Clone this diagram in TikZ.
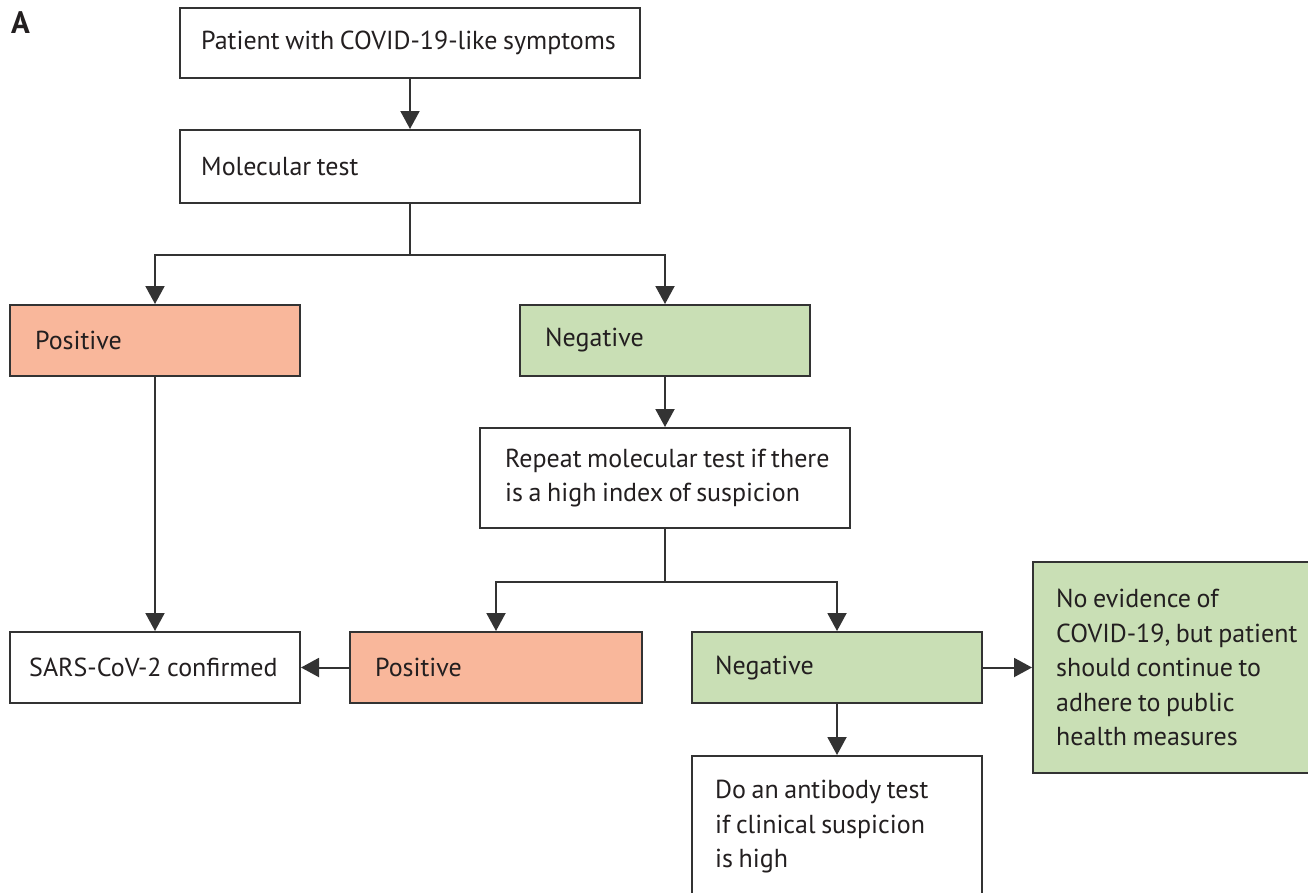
\documentclass[tikz,border=0pt]{standalone}
\usepackage{fontspec}
\setmainfont[WordSpace=0.8]{PT Sans}
\usetikzlibrary{arrows.meta}
\definecolor{pos}{HTML}{F9B79B}
\definecolor{neg}{HTML}{C9DFB5}
\definecolor{ln}{HTML}{333333}
\definecolor{tx}{HTML}{231F20}
\tikzset{
  box/.style={draw=ln, line width=2pt, rectangle, inner sep=0pt, anchor=center},
  txt/.style={inner sep=0pt, align=left, text=tx, font=\fontsize{26}{34.5}\selectfont, anchor=west},
  arr/.style={draw=ln, line width=2pt, -{Triangle[length=18pt,width=19pt]}},
  ln/.style={draw=ln, line width=2pt},
}
\begin{document}
\begin{tikzpicture}[x=1pt,y=-1pt]
\clip (0,0) rectangle (1308,892);
\fill[white] (0,0) rectangle (1308,892);
\node[anchor=north west, inner sep=0pt, font=\fontsize{31}{31}\selectfont\bfseries, text=tx] (lbl) at (11,11) {A};
\node[box, minimum width=460pt, minimum height=70pt] (p1) at (410,43) {};
\node[box, minimum width=460pt, minimum height=73pt] (p2) at (410,166.5) {};
\node[box, fill=pos, minimum width=290pt, minimum height=71pt] (pos1) at (155,340.5) {};
\node[box, fill=neg, minimum width=290pt, minimum height=71pt] (neg1) at (665,340.5) {};
\node[box, minimum width=370pt, minimum height=100pt] (rep) at (665,478) {};
\node[box, minimum width=290pt, minimum height=71pt] (sars) at (155,667.5) {};
\node[box, fill=pos, minimum width=292pt, minimum height=71pt] (pos2) at (496,667.5) {};
\node[box, fill=neg, minimum width=290pt, minimum height=71pt] (neg2) at (837,667.5) {};
\node[box, fill=neg, minimum width=290pt, minimum height=211pt, anchor=west] (noev) at (1032,667.5) {};
\node[box, minimum width=290pt, minimum height=142pt, anchor=north] (ab) at (837,755) {};
\node[txt] (p1t) at ([xshift=22pt]p1.west) {Patient with COVID-19-like symptoms};
\node[txt] (p2t) at ([xshift=22pt]p2.west) {Molecular test};
\node[txt] (pos1t) at ([xshift=26pt]pos1.west) {Positive};
\node[txt] (neg1t) at ([xshift=26pt]neg1.west) {Negative};
\node[txt] (rept) at ([xshift=26pt]rep.west) {Repeat molecular test if there\\is a high index of suspicion};
\node[txt] (sarst) at ([xshift=20pt]sars.west) {SARS-CoV-2 confirmed};
\node[txt] (pos2t) at ([xshift=26pt]pos2.west) {Positive};
\node[txt] (neg2t) at ([xshift=24pt]neg2.west) {Negative};
\node[txt] (noevt) at ([xshift=24pt]noev.west) {No evidence of\\COVID-19, but patient\\should continue to\\adhere to public\\health measures};
\node[txt] (abt) at ([xshift=24pt]ab.west) {Do an antibody test\\if clinical suspicion\\is high};
\coordinate (j1) at (410,255);
\coordinate (j2) at (665,582);
\draw[arr] (p1) -- (p2);
\draw[ln] (p2) -- (j1);
\draw[arr] (j1) -| (pos1);
\draw[arr] (j1) -| (neg1);
\draw[arr] (neg1) -- (rep);
\draw[ln] (rep) -- (j2);
\draw[arr] (j2) -| (pos2);
\draw[arr] (j2) -| (neg2);
\draw[arr] (pos1) -- (sars);
\draw[arr] (pos2) -- (sars);
\draw[arr] (neg2) -- (noev);
\draw[arr] (neg2) -- (ab);
\end{tikzpicture}
\end{document}
